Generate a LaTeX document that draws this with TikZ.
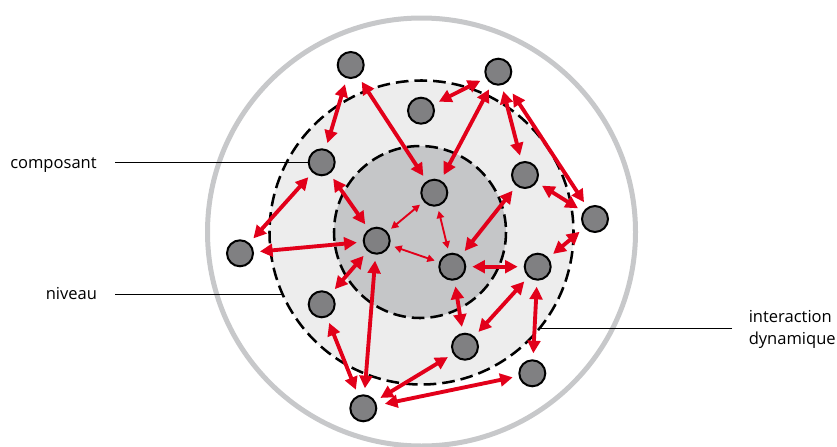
\documentclass[tikz,border=0pt]{standalone}
\usepackage{fontspec}
\setmainfont{Open Sans}
\usetikzlibrary{arrows.meta}

\definecolor{linkred}{RGB}{226,0,26}
\definecolor{compgray}{RGB}{128,128,130}
\definecolor{ringgray}{RGB}{199,200,202}
\definecolor{levelgray}{RGB}{237,237,237}
\definecolor{coregray}{RGB}{197,198,200}

\begin{document}
\begin{tikzpicture}[x=0.75pt,y=0.75pt,yscale=-1,xscale=1,
  comp/.style={circle,draw=black,line width=1.5pt,fill=compgray,minimum size=19.5pt,inner sep=0pt},
  link/.style={draw=linkred,line width=2.9pt,{Triangle[length=9.5pt,width=9.5pt]}-{Triangle[length=9.5pt,width=9.5pt]},shorten >=4.5pt,shorten <=4.5pt},
  thinlink/.style={draw=linkred,line width=1.4pt,{Triangle[length=5.5pt,width=5.5pt]}-{Triangle[length=5.5pt,width=5.5pt]},shorten >=3.5pt,shorten <=3.5pt},
  lbl/.style={inner sep=0pt,font=\fontsize{12.4}{16.5}\selectfont}]
\useasboundingbox (0,0) rectangle (837,446);

%Shape: Circle [outer ring]
\draw [ringgray,line width=3.75pt] (421.5,232) circle (214);
%Shape: Circle [level]
\fill [levelgray] (421.5,232.5) circle (152);
%Shape: Circle [core]
\fill [coregray] (420,232) circle (86);
%Dashed borders
\draw [line width=1.9pt,dash pattern={on 9.5pt off 4.5pt}] (421.5,232.5) circle (152);
\draw [line width=1.9pt,dash pattern={on 9.5pt off 4.5pt}] (420,232) circle (86);

% Components
\node [comp] (c1) at (350.7,65) {};
\node [comp] (c2) at (498.3,71.7) {};
\node [comp] (c3) at (421,110.7) {};
\node [comp] (c4) at (321.7,162.3) {};
\node [comp] (c5) at (434.3,192.7) {};
\node [comp] (c6) at (525,175) {};
\node [comp] (c7) at (595,219) {};
\node [comp] (c8) at (240,253.3) {};
\node [comp] (c9) at (376.7,240.7) {};
\node [comp] (c10) at (452.3,266.7) {};
\node [comp] (c11) at (537.7,266.7) {};
\node [comp] (c12) at (321.7,304.3) {};
\node [comp] (c13) at (465,346.7) {};
\node [comp] (c14) at (532.3,373.3) {};
\node [comp] (c15) at (363.3,408.3) {};

% Interactions
\draw [link] (c1) -- (c4);
\draw [link] (c1) -- (c5);
\draw [link] (c2) -- (c3);
\draw [link] (c2) -- (c5);
\draw [link] (c2) -- (c6);
\draw [link,shorten <=9pt] (c2) -- (c7);
\draw [link] (c4) -- (c8);
\draw [link] (c4) -- (c9);
\draw [link] (c8) -- (c9);
\draw [thinlink] (c5) -- (c9);
\draw [thinlink] (c5) -- (c10);
\draw [thinlink] (c9) -- (c10);
\draw [link] (c6) -- (c10);
\draw [link] (c6) -- (c7);
\draw [link] (c7) -- (c11);
\draw [link] (c10) -- (c11);
\draw [link] (c9) -- (c12);
\draw [link] (c9) -- (c15);
\draw [link] (c12) -- (c15);
\draw [link] (c10) -- (c13);
\draw [link] (c11) -- (c13);
\draw [link] (c11) -- (c14);
\draw [link] (c13) -- (c15);
\draw [link,shorten <=6pt] (c15) -- (c14);

% Text Node
\node [lbl,anchor=base west] (composant) at (10,168) {composant};
% Text Node
\node [lbl,anchor=base west] (niveau) at (45.5,299.5) {niveau};
% Text Node
\node [lbl,anchor=north west,align=left] (interaction) at (748.5,310) {interaction\\dynamique};

% Leader lines
\coordinate (comp-start) at (115,162.3);
\coordinate (niv-start) at (115,294.3);
\coordinate (niv-end) at (282.5,294.3);
\coordinate (inter-start) at (732,328.5);
\coordinate (inter-end) at (539.5,328.5);
\draw [line width=0.9pt] (comp-start) -- (c4);
\draw [line width=0.9pt] (niv-start) -- (niv-end);
\draw [line width=0.9pt] (inter-start) -- (inter-end);

\end{tikzpicture}
\end{document}
